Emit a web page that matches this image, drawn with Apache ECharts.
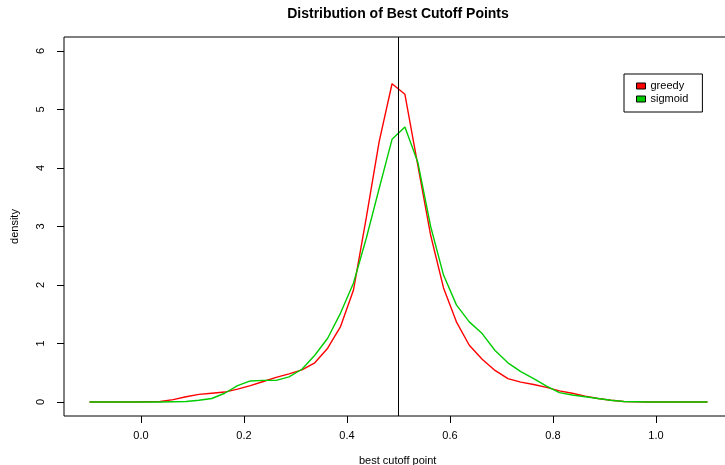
<!DOCTYPE html>
<html>
<head>
<meta charset="utf-8">
<script src="https://cdn.jsdelivr.net/npm/echarts@6/dist/echarts.min.js"></script>
<style>
html,body{margin:0;padding:0;background:#fff;}
#chart{width:725px;height:465px;}
</style>
</head>
<body>
<div id="chart"></div>
<script>
// x positions of the density estimates (best cutoff point)
var cutoffs = [-0.1, -0.0875, -0.0625, -0.0375, -0.0125, 0.0125, 0.0375, 0.0625, 0.0875, 0.1125,
  0.1375, 0.1625, 0.1875, 0.2125, 0.2375, 0.2625, 0.2875, 0.3125, 0.3375, 0.3625,
  0.3875, 0.4125, 0.4375, 0.4625, 0.4875, 0.5125, 0.5375, 0.5625, 0.5875, 0.6125,
  0.6375, 0.6625, 0.6875, 0.7125, 0.7375, 0.7625, 0.7875, 0.8125, 0.8375, 0.8625,
  0.8875, 0.9125, 0.9375, 0.9625, 0.9875, 1.0125, 1.0375, 1.0625, 1.0875, 1.1];

var greedy = [0, 0, 0, 0, 0, 0.005, 0.01, 0.04, 0.09, 0.13,
  0.15, 0.17, 0.22, 0.28, 0.35, 0.42, 0.48, 0.55, 0.67, 0.92,
  1.29, 1.91, 3.15, 4.45, 5.44, 5.26, 4.05, 2.85, 1.95, 1.37,
  0.97, 0.73, 0.54, 0.40, 0.34, 0.30, 0.25, 0.19, 0.15, 0.10,
  0.06, 0.03, 0.01, 0.005, 0, 0, 0, 0, 0, 0];

var sigmoid = [0, 0, 0, 0, 0, 0, 0, 0.005, 0.01, 0.03,
  0.06, 0.15, 0.28, 0.36, 0.37, 0.37, 0.43, 0.56, 0.80, 1.09,
  1.52, 2.03, 2.80, 3.65, 4.49, 4.70, 4.10, 3.00, 2.17, 1.66,
  1.37, 1.17, 0.88, 0.67, 0.52, 0.40, 0.27, 0.16, 0.12, 0.09,
  0.06, 0.03, 0.01, 0.005, 0, 0, 0, 0, 0, 0];

var xTicks = [0, 0.2, 0.4, 0.6, 0.8, 1.0];
var yTicks = [0, 1, 2, 3, 4, 5, 6];
var cutLine = 0.5;

var FONT = "'Liberation Sans', Arial, Helvetica, sans-serif";

function pairs(xs, ys) {
  return xs.map(function (x, i) { return [x, ys[i]]; });
}

var chart = echarts.init(document.getElementById('chart'), null, {renderer: 'canvas'});
chart.setOption({
  animation: false,
  backgroundColor: '#ffffff',
  title: {
    text: 'Distribution of Best Cutoff Points',
    left: 398,
    top: 7,
    padding: 0,
    textAlign: 'center',
    textStyle: {fontFamily: FONT, fontSize: 14, fontWeight: 'bold', color: '#000'}
  },
  legend: {
    orient: 'vertical',
    left: 624,
    top: 74,
    padding: [6, 14, 7, 12],
    borderColor: '#000',
    borderWidth: 1,
    icon: 'rect',
    itemWidth: 9,
    itemHeight: 6,
    itemGap: 1,
    itemStyle: {borderColor: '#000', borderWidth: 1},
    textStyle: {fontFamily: FONT, fontSize: 11, color: '#000', lineHeight: 12},
    data: ['greedy', 'sigmoid']
  },
  grid: {
    left: 64,
    top: 37,
    width: 667.4,
    height: 379,
    outerBoundsMode: 'none',
    containLabel: false,
    show: true,
    borderColor: '#000',
    borderWidth: 1,
    backgroundColor: 'transparent'
  },
  xAxis: {
    type: 'value',
    min: -0.1495,
    max: 1.1465,
    name: 'best cutoff point',
    nameLocation: 'middle',
    nameGap: 39,
    nameTextStyle: {fontFamily: FONT, fontSize: 11, color: '#000'},
    axisLine: {show: false, onZero: false},
    splitLine: {show: false},
    axisTick: {show: true, length: 7, customValues: xTicks, lineStyle: {color: '#000'}},
    axisLabel: {
      customValues: xTicks,
      margin: 14,
      fontFamily: FONT, fontSize: 11, color: '#000',
      formatter: function (v) { return v.toFixed(1); }
    }
  },
  yAxis: {
    type: 'value',
    min: -0.239,
    max: 6.239,
    name: 'density',
    nameLocation: 'middle',
    nameGap: 44,
    nameRotate: 90,
    nameTextStyle: {fontFamily: FONT, fontSize: 11, color: '#000'},
    axisLine: {show: false, onZero: false},
    splitLine: {show: false},
    axisTick: {show: true, length: 7, customValues: yTicks, lineStyle: {color: '#000'}},
    axisLabel: {
      customValues: yTicks,
      rotate: 90,
      margin: 18,
      fontFamily: FONT, fontSize: 11, color: '#000'
    }
  },
  series: [
    {
      name: 'greedy',
      type: 'line',
      data: pairs(cutoffs, greedy),
      symbol: 'none',
      color: '#ff0000',
      lineStyle: {color: '#ff0000', width: 1.4},
      z: 2
    },
    {
      name: 'sigmoid',
      type: 'line',
      data: pairs(cutoffs, sigmoid),
      symbol: 'none',
      color: '#00cd00',
      lineStyle: {color: '#00cd00', width: 1.4},
      z: 3,
      markLine: {
        silent: true,
        symbol: ['none', 'none'],
        label: {show: false},
        lineStyle: {color: '#000', width: 1, type: 'solid'},
        data: [{xAxis: cutLine}]
      }
    }
  ]
});
</script>
</body>
</html>
